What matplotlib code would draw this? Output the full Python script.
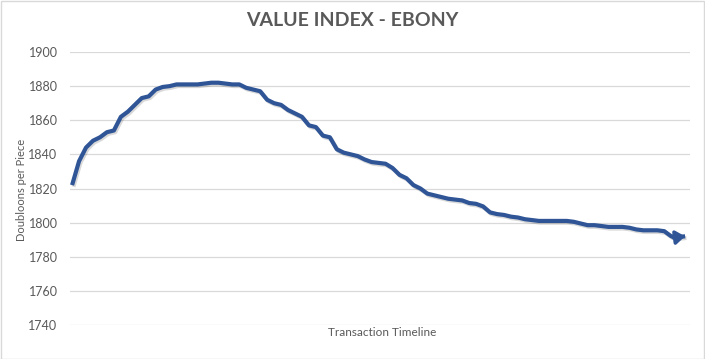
import matplotlib
matplotlib.use("Agg")
import matplotlib.pyplot as plt
import matplotlib.patheffects as pe
from matplotlib.patches import Rectangle

values = [1822, 1836, 1844, 1848, 1850, 1853, 1854, 1862, 1865, 1869,
          1873, 1874, 1878, 1879.5, 1880, 1881, 1881, 1881, 1881, 1881.5,
          1882, 1882, 1881.5, 1881, 1881, 1879, 1878, 1877, 1872, 1870,
          1869, 1866, 1864, 1862, 1857, 1856, 1851, 1850, 1843, 1841,
          1840, 1839, 1837, 1835.5, 1835, 1834.5, 1832, 1828, 1826, 1822,
          1820, 1817, 1816, 1815, 1814, 1813.5, 1813, 1811.5, 1811, 1809.5,
          1806, 1805, 1804.5, 1803.5, 1803, 1802, 1801.5, 1801, 1801, 1801,
          1801, 1801, 1800.5, 1799.5, 1798.5, 1798.5, 1798, 1797.5, 1797.5, 1797.5,
          1797, 1796, 1795.5, 1795.5, 1795.5, 1795, 1792, 1791.5, 1792]
x = list(range(len(values)))
yticks = [1740, 1760, 1780, 1800, 1820, 1840, 1860, 1880, 1900]

title = "VALUE INDEX - EBONY"
ylabel = "Doubloons per Piece"
xlabel = "Transaction Timeline"

W, H = 705, 359
fig = plt.figure(figsize=(W / 100, H / 100), dpi=100)
fig.patches.append(Rectangle((0.5 / W, 0.5 / H), 1 - 1.5 / W, 1 - 1.5 / H,
                             transform=fig.transFigure, fill=False,
                             edgecolor="#d9d9d9", lw=1))
ax = fig.add_axes([70 / W, 1 - 325 / H, 620 / W, 273 / H])

line_color = "#2f5597"
txt = "#595959"
font = "Lato"
shadow = [pe.SimpleLineShadow(offset=(1, -1.2), shadow_color="black", alpha=0.15),
          pe.Normal()]

ax.plot(x, values, color=line_color, lw=3.0, solid_joinstyle="round",
        solid_capstyle="butt", path_effects=shadow, zorder=3)
ax.annotate("", xy=(x[-1], values[-1]), xycoords="data",
            xytext=(-12, -1.5), textcoords="offset pixels",
            arrowprops=dict(arrowstyle="-|>,head_length=0.55,head_width=0.4",
                            color=line_color, lw=2.5, shrinkA=0, shrinkB=0),
            zorder=4)

ax.set_ylim(1740, 1900)
ax.set_xlim(-0.3, len(values) - 1 + 0.7)
ax.set_yticks(yticks)
ax.set_xticks([])
ax.grid(axis="y", color="#d9d9d9", lw=0.9)
ax.set_axisbelow(True)
for s in ax.spines.values():
    s.set_visible(False)
ax.tick_params(axis="y", length=0, pad=9, labelsize=9, labelcolor=txt)
for lab in ax.get_yticklabels():
    lab.set_fontfamily(font)

fig.text(352 / W, 1 - 20 / H, title, ha="center", va="center",
         fontsize=14, fontweight="bold", color=txt, family=font)
fig.text(22 / W, 1 - 190 / H, ylabel, ha="center", va="center", rotation=90,
         fontsize=8, color=txt, family=font)
fig.text(382 / W, 1 - 333 / H, xlabel, ha="center", va="center",
         fontsize=8.5, color=txt, family=font)

fig.savefig("out.png", dpi=100)
